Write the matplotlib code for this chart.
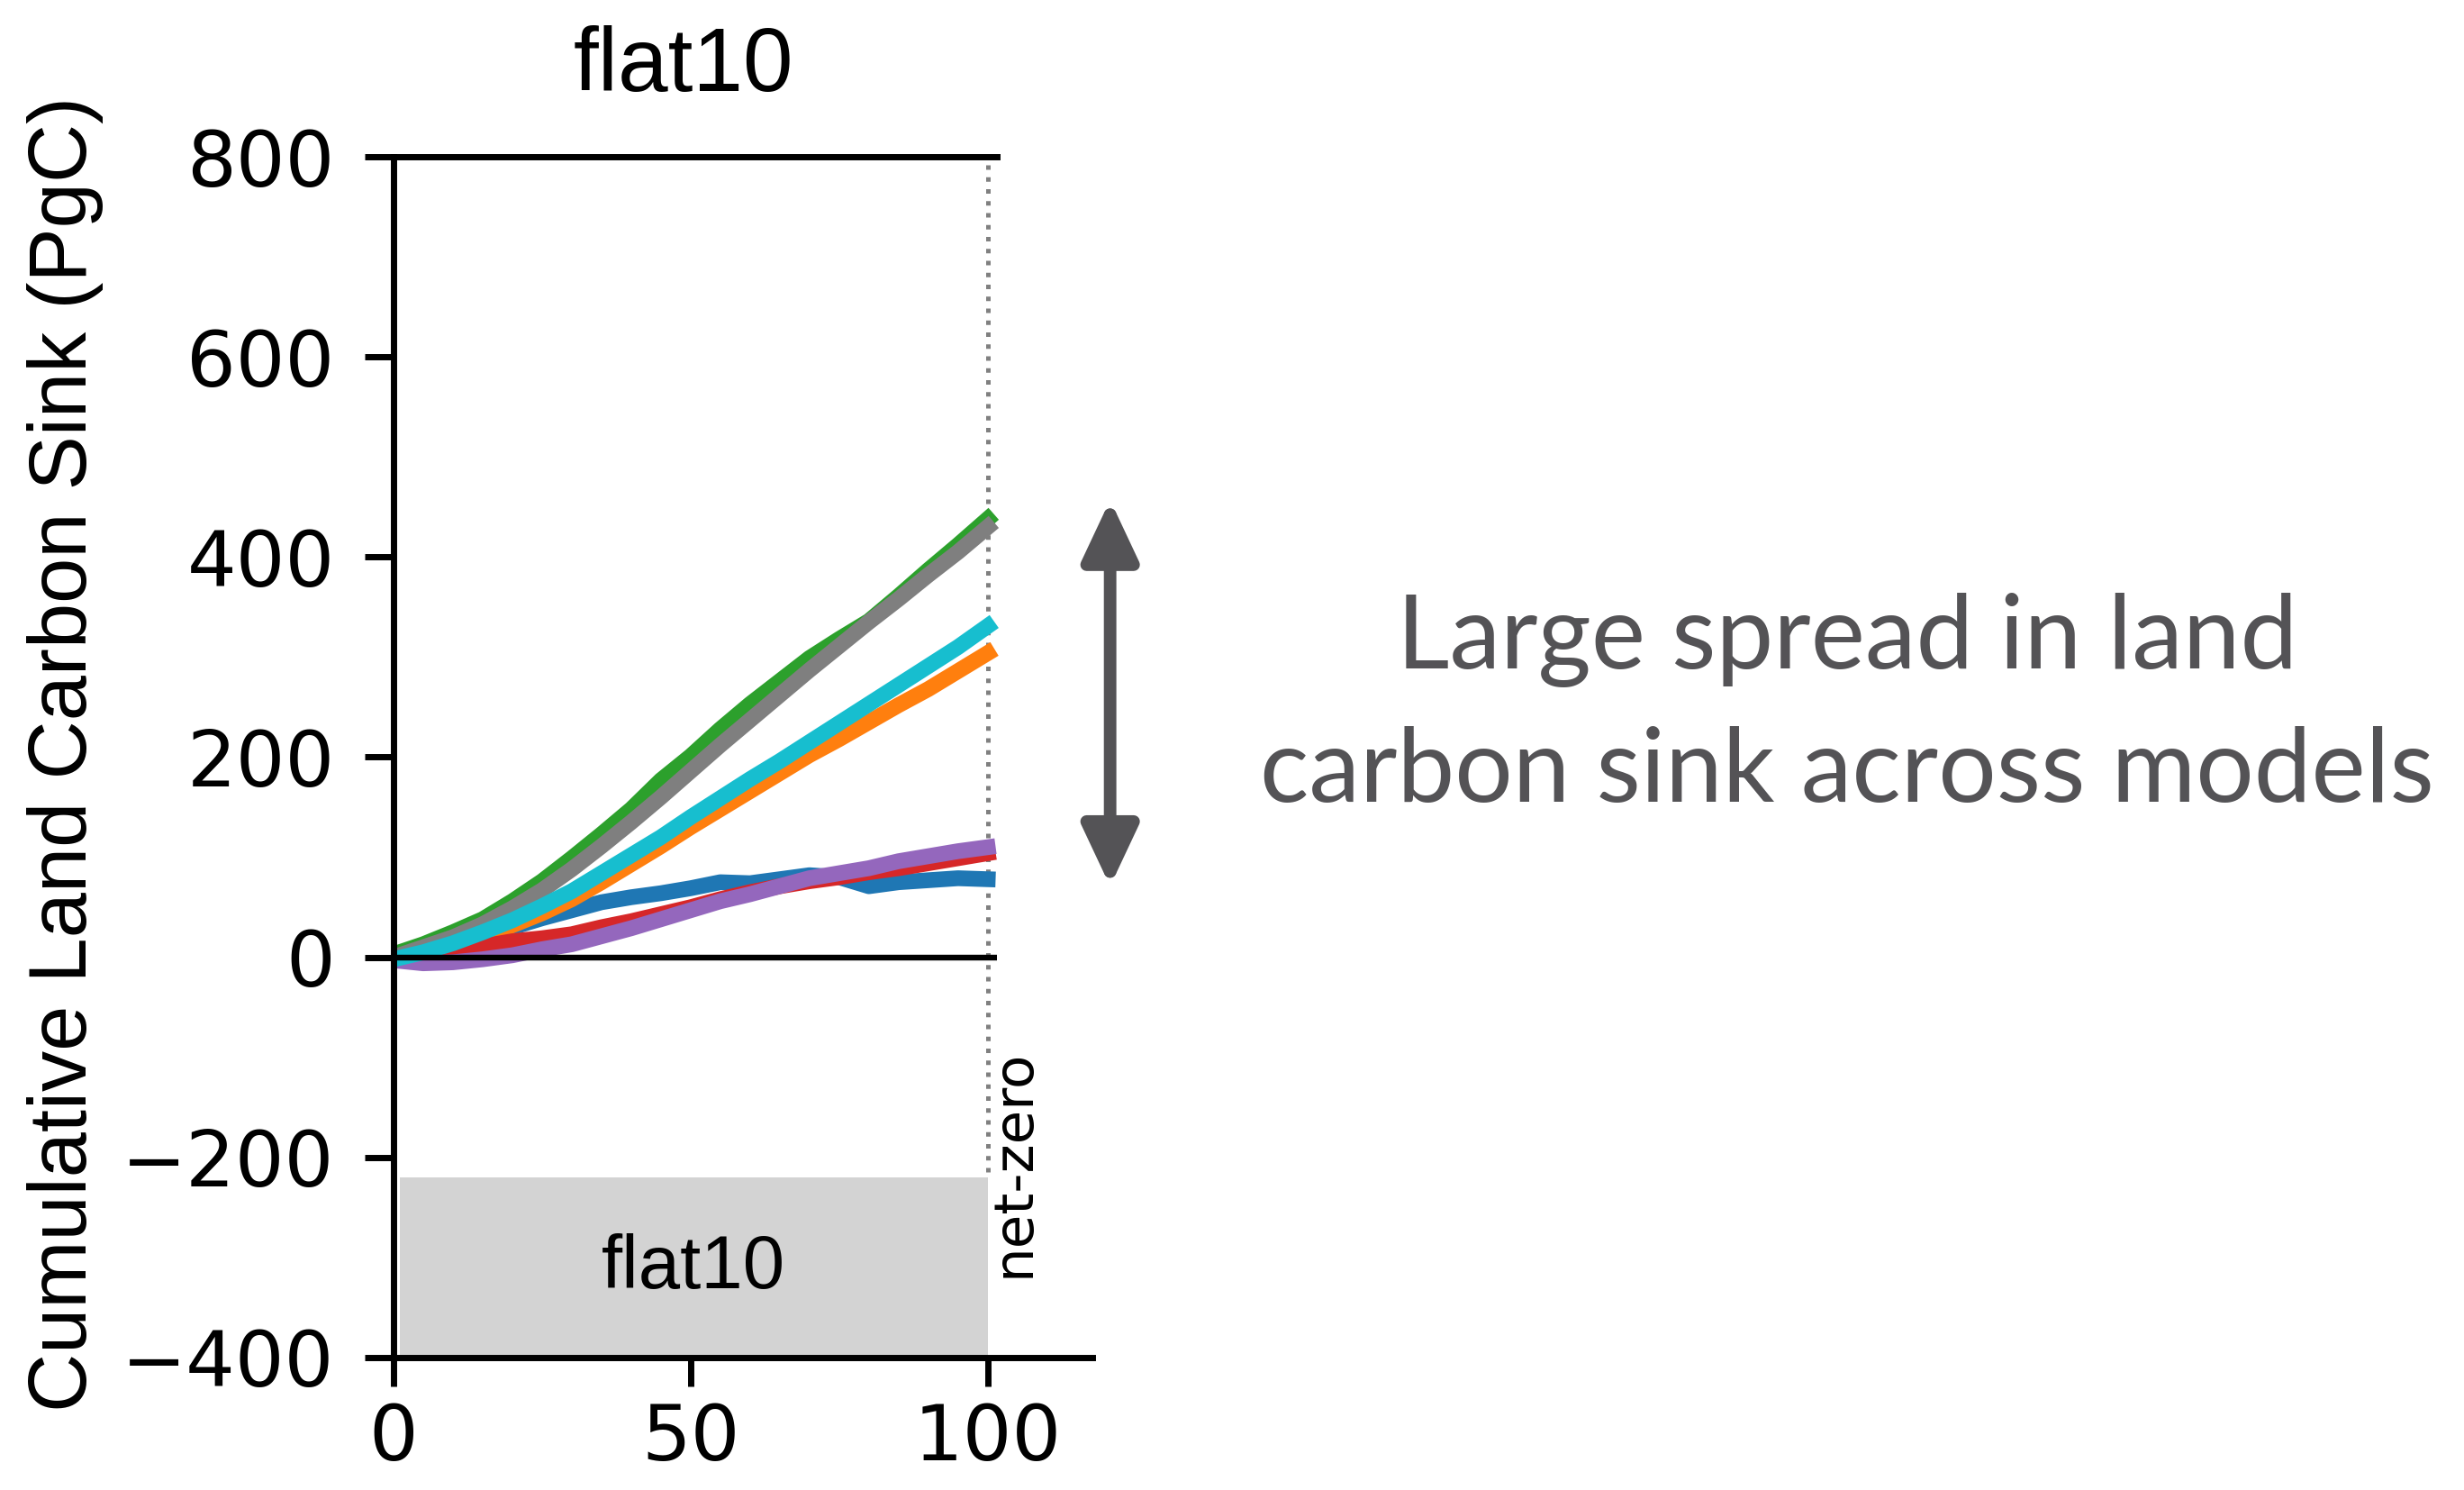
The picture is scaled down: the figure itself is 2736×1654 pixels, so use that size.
import matplotlib.pyplot as plt


# cumulative land carbon sink under flat10, sampled every 5 years
years = [0, 5, 10, 15, 20, 25, 30, 35, 40, 45, 50, 55, 60, 65, 70, 75, 80, 85, 90, 95, 100]

sink_blue = [0, 4, 11, 20, 30, 39, 47, 55, 60, 64, 69, 75, 74, 78, 82, 80, 71, 75, 77, 79, 78]
sink_orange = [0, 5, 11, 20, 32, 44, 58, 75, 93, 111, 130, 148, 166, 184, 202, 218, 235, 252, 268, 286, 304]
sink_green = [3, 13, 25, 38, 56, 76, 99, 123, 148, 177, 201, 228, 253, 276, 299, 318, 336, 361, 387, 412, 438]
sink_red = [0, 2, 6, 11, 16, 19, 23, 30, 36, 43, 50, 58, 65, 71, 76, 80, 85, 89, 94, 99, 104]
sink_purple = [-3, -6, -5, -2, 2, 8, 13, 21, 29, 38, 47, 56, 63, 71, 79, 84, 89, 96, 101, 106, 110]
sink_gray = [0, 10, 20, 33, 49, 67, 88, 111, 135, 160, 186, 212, 237, 262, 287, 311, 335, 358, 382, 405, 430]
sink_cyan = [-2, 5, 14, 25, 37, 51, 66, 84, 102, 120, 140, 159, 178, 196, 215, 234, 253, 272, 291, 310, 331]

series = [
    (sink_blue, "tab:blue"),
    (sink_orange, "tab:orange"),
    (sink_green, "tab:green"),
    (sink_red, "tab:red"),
    (sink_purple, "tab:purple"),
    (sink_gray, "tab:gray"),
    (sink_cyan, "tab:cyan"),
]

y_ticks = [-400, -200, 0, 200, 400, 600, 800]
x_ticks = [0, 50, 100]

NET_ZERO_YEAR = 100
FLAT10_START = 1
BAND_BOTTOM, BAND_TOP = -400, -220
X_MAX = 117.6
LINE_END = 101.5

SANS = ["Liberation Sans", "DejaVu Sans"]
ANNOT_GREY = "#545356"

fig = plt.figure(figsize=(13.68, 8.27), dpi=200)
ax = fig.add_axes([0.1597, 0.0889, 0.2836, 0.8059])

for values, color in series:
    ax.plot(years, values, color=color, lw=6.3)

ax.hlines(0, 0, LINE_END, color="k", lw=2.3, zorder=3)
ax.vlines(NET_ZERO_YEAR, BAND_TOP + 5, 800, color="gray", ls=":", lw=1.8, zorder=1)

# shaded emission period
ax.fill_between([FLAT10_START, NET_ZERO_YEAR], BAND_BOTTOM, BAND_TOP,
                color="lightgray", lw=0, zorder=0)
ax.text((FLAT10_START + NET_ZERO_YEAR) / 2, -311, "flat10",
        ha="center", va="center", fontsize=30, family=SANS)
ax.text(NET_ZERO_YEAR, -206, "net-zero", rotation=90, ha="left", va="center",
        fontsize=22, family="DejaVu Sans")

ax.set_xlim(0, X_MAX)
ax.set_ylim(-400, 800)
ax.set_xticks(x_ticks)
ax.set_yticks(y_ticks)
ax.tick_params(axis="both", labelsize=31, length=11.5, width=2.5)
ax.tick_params(axis="y", pad=12)
ax.tick_params(axis="x", pad=6)
for lab in ax.get_xticklabels() + ax.get_yticklabels():
    lab.set_family("DejaVu Sans")

for side in ["left", "bottom", "top"]:
    ax.spines[side].set_linewidth(2.5)
ax.spines["right"].set_visible(False)
ax.spines["top"].set_bounds(0, LINE_END)

fig.text(0.0265, 0.494, "Cumulative Land Carbon Sink (PgC)", rotation=90,
         ha="center", va="center", fontsize=32.5, family=SANS)
fig.text(759 / 2736, 1 - 101 / 1654, "flat10", ha="center", va="baseline",
         fontsize=36, family=SANS)

# spread arrow beside the panel
ax.annotate("", xy=(120.6, 71), xytext=(120.6, 457),
            arrowprops=dict(arrowstyle="<|-|>,head_length=1.0,head_width=0.47",
                            mutation_scale=20, lw=5, color=ANNOT_GREY,
                            shrinkA=0, shrinkB=0),
            annotation_clip=False)

for line, y_px in [("Large spread in land", 742), ("carbon sink across models", 890)]:
    fig.text(0.7495, 1 - y_px / 1654, line, ha="center", va="baseline",
             fontsize=41, color=ANNOT_GREY, family=["Lato", "DejaVu Sans"])

fig.savefig("out.png", dpi=200)
